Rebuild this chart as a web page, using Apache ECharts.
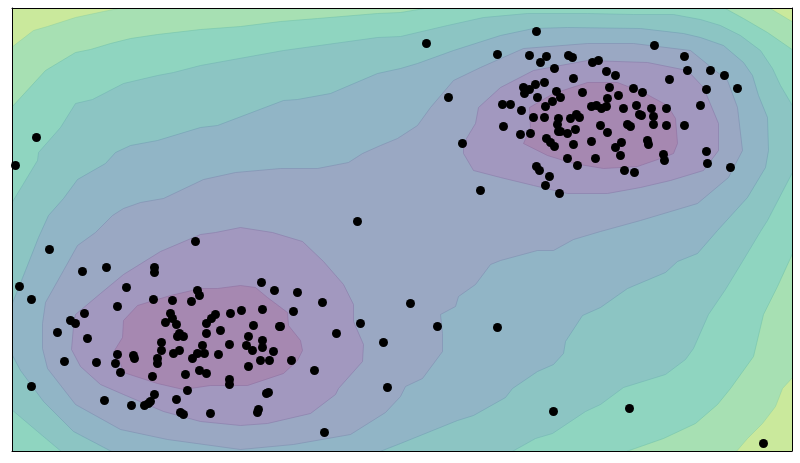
<!DOCTYPE html>
<html>
<head>
<meta charset="utf-8">
<style>html,body{margin:0;padding:0;background:#fff}#c{width:800px;height:463px}</style>
<script src="https://cdn.jsdelivr.net/npm/echarts@6/dist/echarts.min.js"></script>
</head>
<body>
<div id="c"></div>
<script>
const xRange = [11.5, 791.5];
const yRange = [7.5, 450.5];

const band0 = [[11,7],[793,7],[793,452],[11,452]];
const band1 = [[123,7],[768,7],[793,22],[793,376],[782,388],[775,406],[762,423],[747,438],[735,452],[11,452],[11,47],[33,30],[47,26],[75,17],[103,11]];
const band2 = [[11,107],[45,70],[75,52],[90,49],[110,43],[130,38],[157,34],[200,29],[240,26],[280,21],[317,18],[377,13],[400,12],[430,7],[723,7],[743,18],[767,32],[793,50],[793,251],[777,286],[763,314],[753,356],[730,388],[717,404],[695,423],[663,438],[623,452],[11,452]];
const band3 = [[11,203],[37,160],[38,152],[60,127],[75,103],[92,99],[123,83],[157,75],[173,72],[200,65],[283,50],[377,37],[400,36],[447,25],[483,17],[527,13],[587,13],[633,14],[673,14],[700,19],[720,25],[740,35],[760,50],[772,68],[780,85],[793,107],[793,170],[767,220],[760,231],[742,261],[725,289],[708,314],[693,348],[685,359],[665,374],[623,387],[600,404],[585,411],[552,433],[535,438],[510,452],[62,452],[37,431],[11,409]];
const band4 = [[11,305],[25,270],[38,237],[48,215],[63,198],[77,179],[105,163],[115,152],[130,145],[157,140],[200,127],[217,125],[283,100],[297,99],[330,93],[377,73],[400,68],[417,63],[453,50],[500,35],[533,28],[567,27],[640,28],[683,33],[700,37],[723,45],[743,62],[752,75],[758,95],[767,117],[768,150],[765,167],[747,197],[717,230],[697,253],[677,261],[665,272],[627,288],[600,307],[582,315],[565,341],[563,353],[553,364],[537,371],[512,388],[505,397],[473,415],[457,420],[400,443],[377,452],[113,452],[73,431],[43,401],[20,370],[11,353]];
const band5 = [[42,323],[45,302],[63,270],[77,245],[95,232],[112,215],[123,208],[140,202],[163,198],[203,179],[235,172],[280,168],[317,168],[348,162],[362,153],[380,145],[397,138],[417,125],[430,107],[453,80],[480,67],[523,48],[587,43],[633,43],[690,50],[727,80],[737,107],[742,150],[728,177],[697,203],[640,220],[600,231],[573,239],[553,250],[537,250],[500,260],[490,264],[475,284],[458,296],[455,306],[440,314],[442,333],[442,351],[422,378],[405,386],[400,396],[385,412],[350,434],[293,444],[240,449],[167,439],[120,429],[75,404],[47,368],[42,348]];
const band6Left = [[215,232],[240,227],[272,232],[302,241],[323,261],[343,284],[353,304],[353,321],[363,344],[362,361],[338,388],[335,394],[310,413],[267,423],[240,425],[200,421],[163,411],[123,394],[100,384],[80,366],[71,349],[73,326],[75,314],[100,293],[123,274],[160,251],[200,234]];
const band6Right = [[463,143],[475,123],[478,107],[500,87],[533,70],[587,60],[647,62],[687,70],[703,87],[718,123],[718,150],[703,170],[670,180],[640,187],[607,193],[567,193],[533,185],[500,177],[473,170],[463,153]];
const band7Left = [[137,305],[170,295],[200,288],[217,288],[240,285],[255,287],[267,297],[287,312],[288,325],[300,340],[302,350],[297,360],[283,373],[247,385],[210,385],[183,389],[157,383],[123,372],[120,363],[114,350],[122,337],[123,320]];
const band7Right = [[529,107],[553,93],[587,82],[617,82],[643,92],[667,105],[675,118],[677,143],[673,153],[663,157],[637,166],[603,168],[573,163],[547,155],[523,143],[530,127]];

const fills = ['#cae99c','#a7e0b3','#8fd5c0','#8cc5c3','#91b5c6','#9aa8c3','#a298bf','#a688b1'];
const strokes = ['#cae99c','#8fcf9f','#6fbfa8','#6fb0b0','#6f9bb0','#7a89ac','#8474a5','#8a6a9c'];

const regions = [
  {points: band0, level: 0}, {points: band1, level: 1}, {points: band2, level: 2},
  {points: band3, level: 3}, {points: band4, level: 4}, {points: band5, level: 5},
  {points: band6Left, level: 6}, {points: band6Right, level: 6},
  {points: band7Left, level: 7}, {points: band7Right, level: 7}
];

const samples = [
[36,137],[15,165],[357,221],[426,43],[536,31],[497,54],[529,55],[546,56],[540,62],[568,55],[572,57],[554,68],[592,62],[598,60],[606,71],[615,75],[654,45],[684,56],[687,70],[710,70],[724,75],[737,88],[669,79],[706,89],[700,105],[684,125],[706,151],[707,163],[730,167],[448,97],[462,143],[480,190],[573,78],[544,82],[535,84],[523,87],[529,89],[524,93],[537,97],[556,91],[560,97],[552,101],[545,106],[502,104],[510,104],[521,110],[533,117],[544,117],[503,126],[520,134],[530,133],[582,92],[609,87],[618,95],[607,98],[633,88],[642,92],[591,106],[596,105],[601,108],[606,106],[623,108],[636,105],[651,108],[666,108],[639,114],[641,115],[653,116],[653,124],[666,125],[558,118],[570,118],[576,114],[579,117],[557,124],[575,129],[558,131],[560,131],[567,133],[600,125],[627,124],[630,126],[607,132],[546,138],[550,142],[554,146],[573,144],[591,141],[621,142],[615,147],[647,140],[648,144],[620,155],[663,154],[664,160],[567,158],[595,158],[577,165],[624,170],[634,172],[536,166],[539,170],[549,176],[545,185],[559,193],
[195,241],[49,249],[106,267],[82,271],[154,267],[154,272],[19,286],[31,299],[126,287],[261,282],[274,290],[297,292],[322,302],[117,306],[153,299],[172,300],[191,301],[197,290],[199,295],[57,332],[84,313],[70,320],[75,323],[87,338],[170,313],[172,318],[165,322],[176,324],[215,314],[211,318],[206,323],[230,313],[241,310],[262,309],[293,311],[253,325],[279,326],[280,326],[220,330],[206,333],[179,333],[177,336],[183,336],[248,336],[262,340],[336,333],[360,323],[161,342],[202,345],[229,344],[246,345],[262,347],[252,350],[273,351],[383,342],[161,350],[179,350],[173,353],[204,353],[197,353],[218,354],[192,358],[117,354],[133,355],[134,358],[157,358],[64,361],[96,362],[115,363],[157,363],[260,360],[269,360],[291,360],[248,366],[120,372],[314,370],[199,370],[206,373],[185,374],[152,376],[229,379],[229,384],[31,386],[387,387],[187,390],[154,394],[266,393],[268,392],[104,400],[176,399],[150,401],[148,403],[144,405],[131,405],[180,412],[183,414],[210,413],[258,409],[257,412],[324,432],
[410,303],[437,326],[497,327],[553,411],[629,408],[763,443]
];

function frameAxis(pos, range, inverse) {
  return {
    type: 'value', position: pos, min: range[0], max: range[1], inverse: !!inverse,
    z: 5,
    axisLine: {show: true, onZero: false, lineStyle: {color: '#000', width: 1}},
    axisTick: {show: false}, axisLabel: {show: false}, splitLine: {show: false}
  };
}

const chart = echarts.init(document.getElementById('c'), null, {renderer: 'canvas'});
chart.setOption({
  animation: false,
  backgroundColor: '#fff',
  grid: {left: 12, top: 8, width: 780, height: 443, containLabel: false},
  xAxis: [frameAxis('bottom', xRange), frameAxis('top', xRange)],
  yAxis: [frameAxis('left', yRange, true), frameAxis('right', yRange, true)],
  series: [
    {
      type: 'custom', silent: true, clip: true, z: 2,
      coordinateSystem: 'cartesian2d',
      data: regions.map((r, i) => [i]),
      encode: {x: [], y: []},
      renderItem: function (params, api) {
        const r = regions[params.dataIndex];
        return {
          type: 'polygon',
          shape: {points: r.points.map(p => api.coord(p))},
          style: {fill: fills[r.level], stroke: strokes[r.level], lineWidth: r.level ? 0.5 : 0}
        };
      }
    },
    {
      type: 'scatter', silent: true, clip: false, z: 10,
      data: samples, symbol: 'circle', symbolSize: 9,
      itemStyle: {color: '#000', opacity: 1}
    }
  ]
});
</script>
</body>
</html>
